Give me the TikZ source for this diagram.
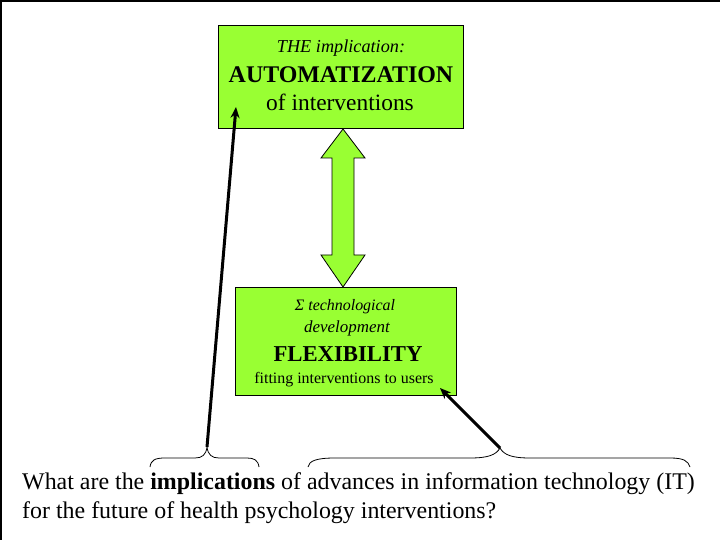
\documentclass[tikz,border=0pt]{standalone}
\usepackage{fontspec}
\setmainfont{Liberation Serif}
\usetikzlibrary{arrows.meta}
\definecolor{lime}{RGB}{153,255,51}
\begin{document}
\begin{tikzpicture}[x=1bp,y=-1bp,
  box/.style={draw=black, fill=lime, line width=0.8bp, inner sep=0pt},
  txt/.style={inner sep=0pt, anchor=center},
  pointer/.style={line width=3bp, -{Stealth[length=11bp,width=9bp]}},
  bracepath/.style={line width=0.8bp}]
\useasboundingbox (0,0) rectangle (720,540);
\fill[white] (0,0) rectangle (720,540);
\draw[line width=2bp] (1,540) -- (1,1) -- (720,1);
% boxes
\node[box, minimum width=245bp, minimum height=103bp] (top) at (340.5,76.5) {};
\node[box, minimum width=221bp, minimum height=108bp] (bot) at (345.5,341) {};
% top texts
\node[txt, font=\fontsize{18.3}{21}\selectfont\itshape] (t1) at (341,48) {THE implication:};
\node[txt, font=\fontsize{24}{28}\selectfont\bfseries] (t2) at (341,75) {AUTOMATIZATION};
\node[txt, font=\fontsize{23.5}{27}\selectfont] (t3) at (340,102) {of interventions};
% bottom texts
\node[txt, font=\fontsize{16}{19}\selectfont\itshape] (b1) at (345,307) {Σ technological};
\node[txt, font=\fontsize{17}{20}\selectfont\itshape] (b2) at (347,328) {development};
\node[txt, font=\fontsize{22.8}{27}\selectfont\bfseries] (b3) at (348,354) {FLEXIBILITY};
\node[txt, font=\fontsize{16}{19}\selectfont] (b4) at (344,380) {fitting interventions to users};
% double arrow
\draw[fill=lime, line width=0.8bp] (343,129) -- (365,158) -- (354,158) -- (354,255) -- (365,255) -- (343,287) -- (321,255) -- (332,255) -- (332,158) -- (321,158) -- cycle;
% question
\node[anchor=west, inner sep=0pt, align=left, font=\fontsize{24}{29}\selectfont] (q) at (22,498.5)
  {What are the \textbf{implications} of advances in information technology (IT)\\for the future of health psychology interventions?};
% braces
\coordinate (lb) at (207,447);
\coordinate (rb) at (500,448);
\draw[bracepath] (150,467) .. controls (151,460) and (155,458) .. (165,458) -- (195,458) .. controls (202,458) and (206,455) .. (lb)
  .. controls (208,455) and (212,458) .. (219,458) -- (247,458) .. controls (254,458) and (258,460) .. (259,467);
\draw[bracepath] (308,467) .. controls (309,461) and (316,458) .. (335,458) -- (470,458) .. controls (488,458) and (496,455) .. (rb)
  .. controls (504,455) and (512,458) .. (530,458) -- (670,458) .. controls (684,458) and (688,461) .. (690,467);
% pointers
\coordinate (ta) at (236,107);
\coordinate (ba) at (440,388);
\draw[pointer] (lb) -- (ta);
\draw[pointer] (rb) -- (ba);
\end{tikzpicture}
\end{document}
